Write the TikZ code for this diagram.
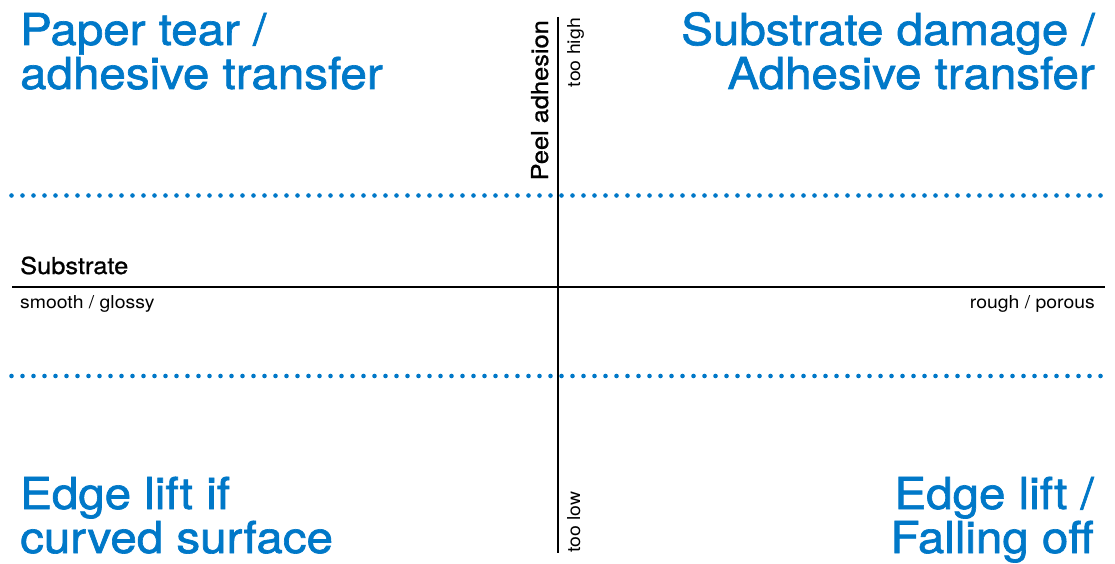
\documentclass[tikz,border=0pt]{standalone}
\usepackage{fontspec}
\setmainfont{TeX Gyre Heros}
\newfontfamily\titlefont[FakeStretch=1.08,FakeBold=1.5]{TeX Gyre Heros}
\newfontfamily\midfont[FakeStretch=1.09,FakeBold=1.0]{TeX Gyre Heros}
\newfontfamily\smallfont[FakeStretch=1.09]{TeX Gyre Heros}
\definecolor{tblue}{HTML}{0078C8}
\begin{document}
\begin{tikzpicture}[x=1pt,y=1pt,
  title/.style={inner sep=0pt, text=tblue, font=\titlefont\fontsize{44}{44}\selectfont},
  axislabel/.style={inner sep=0pt, font=\midfont\fontsize{23.3}{23.3}\selectfont},
  endlabel/.style={inner sep=0pt, font=\smallfont\fontsize{17.8}{17.8}\selectfont},
  axis/.style={line width=2pt, black},
  band/.style={tblue, line width=4.6pt, line cap=round, dash pattern=on 0pt off 11pt}]
\useasboundingbox (0,0) rectangle (1115,563);
% coordinates
\coordinate (vtop) at (557.5,546);
\coordinate (vbot) at (557.5,10);
\coordinate (hl) at (12,276.3);
\coordinate (hr) at (1105,276.3);
\coordinate (d1l) at (11.5,367.5);
\coordinate (d1r) at (1106,367.5);
\coordinate (d2l) at (11.5,187);
\coordinate (d2r) at (1106,187);
% dotted bands
\draw[band] (d1l) -- (d1r);
\draw[band] (d2l) -- (d2r);
% axes
\draw[axis] (vtop) -- (vbot);
\draw[axis] (hl) -- (hr);
% titles (base anchor = baseline of last line)
\node[title, anchor=base west, align=left] (tl) at (20,474) {Paper tear /\\adhesive transfer};
\node[title, anchor=base east, align=right] (tr) at (1095,474) {Substrate damage /\\Adhesive transfer};
\node[title, anchor=base west, align=left] (bl) at (20,10) {Edge lift if\\curved surface};
\node[title, anchor=base east, align=right] (br) at (1094,10) {Edge lift /\\Falling off};
% axis labels
\node[axislabel, anchor=base west] (sub) at (20,289) {Substrate};
\node[endlabel, anchor=base west] (smooth) at (20,255) {smooth / glossy};
\node[endlabel, anchor=base east] (rough) at (1095,255) {rough / porous};
\node[axislabel, rotate=90, anchor=base east] (peel) at (548,543) {Peel adhesion};
\node[endlabel, rotate=90, anchor=base east] (high) at (580,545) {too high};
\node[endlabel, rotate=90, anchor=base west] (low) at (580,10) {too low};
\end{tikzpicture}
\end{document}
